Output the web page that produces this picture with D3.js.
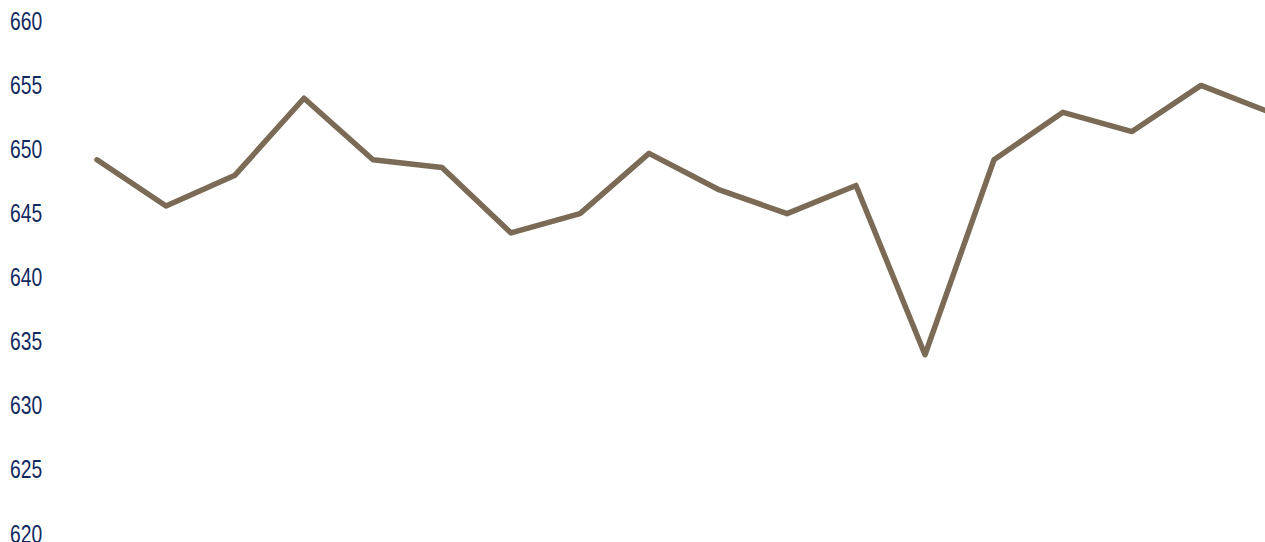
<!DOCTYPE html>
<html>
<head>
<meta charset="utf-8">
<script src="https://cdn.jsdelivr.net/npm/d3@7"></script>
<style>
  html, body { margin: 0; padding: 0; background: #fff; overflow: hidden; }
  .tick text { font-family: "Liberation Sans", Arial, sans-serif; }
</style>
</head>
<body>
<div id="chart"></div>
<script>
// values
var periods = ["1","2","3","4","5","6","7","8","9","10","11","12","13","14","15","16","17","18"];
var values = [649.1, 645.5, 647.9, 653.9, 649.1, 648.5, 643.4, 644.9, 649.6, 646.8, 644.9, 647.1, 633.9, 649.1, 652.8, 651.3, 654.9, 652.8];
var yTicks = [620, 625, 630, 635, 640, 645, 650, 655, 660];

var width = 1265, height = 542;

var svg = d3.select("#chart").append("svg")
	.attr("width", width).attr("height", height);

var x = d3.scalePoint().domain(periods).range([97, 97 + 69 * (periods.length - 1)]);
var y = d3.scaleLinear().domain([620, 660]).range([533, 20]);

// y labels only, no axis line; squeezed sideways to look like a narrow face
var yAxis = svg.append("g").attr("transform", "translate(10,0) scale(0.77,1)")
	.call(d3.axisRight(y).tickValues(yTicks).tickSize(0).tickFormat(d3.format("d")));
yAxis.select(".domain").remove();
yAxis.selectAll("text")
	.attr("x", 0)
	.attr("dy", "0.36em")
	.style("font-size", "25px")
	.style("fill", "#12295f");

var line = d3.line()
	.x(function(d, i) { return x(periods[i]); })
	.y(function(d) { return y(d); });

svg.append("path")
	.datum(values)
	.attr("d", line)
	.attr("fill", "none")
	.attr("stroke", "#7b6a55")
	.attr("stroke-width", 5.5)
	.attr("stroke-linejoin", "round")
	.attr("stroke-linecap", "round");
</script>
</body>
</html>
